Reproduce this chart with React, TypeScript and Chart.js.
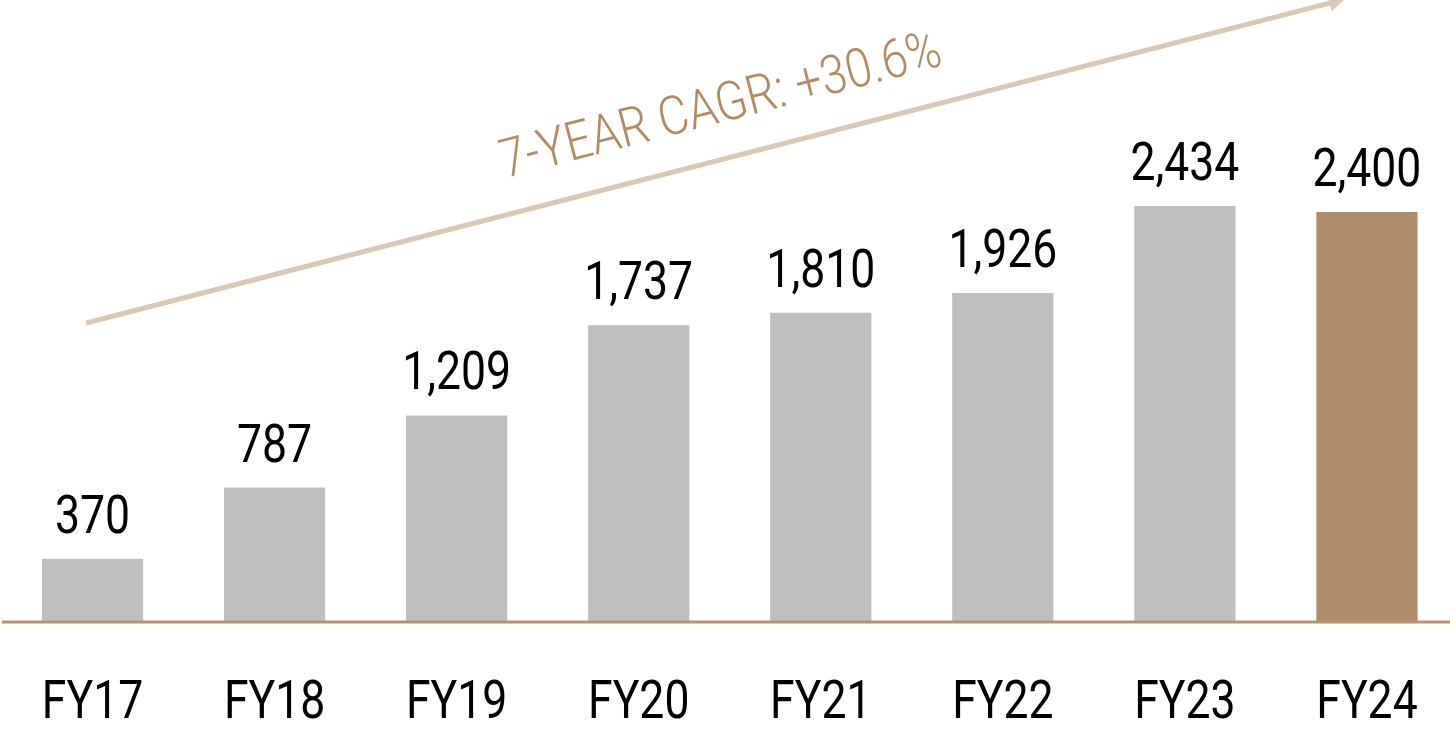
import React, { useEffect, useRef } from "react";
import { Chart, registerables } from "chart.js";

Chart.register(...registerables);

const categories = ["FY17", "FY18", "FY19", "FY20", "FY21", "FY22", "FY23", "FY24"];
const values = [370, 787, 1209, 1737, 1810, 1926, 2434, 2400];
const valueLabels = ["370", "787", "1,209", "1,737", "1,810", "1,926", "2,434", "2,400"];
const barColors = ["#bfbfbf", "#bfbfbf", "#bfbfbf", "#bfbfbf", "#bfbfbf", "#bfbfbf", "#bfbfbf", "#af8c6b"];
const cagrText = "7-YEAR CAGR: +30.6%";
// arrow start/end in data terms: [category index, value]
const arrowStart = [-0.035, 1750];
const arrowEnd = [6.88, 3645];

const FONT = "Roboto, 'Noto Sans', sans-serif";
const SQUEEZE = 0.84;

function drawCondensed(ctx: CanvasRenderingContext2D, text: string, x: number, y: number) {
  ctx.save();
  ctx.translate(x, y);
  ctx.scale(SQUEEZE, 1);
  ctx.fillText(text, 0, 0);
  ctx.restore();
}

const overlay = {
  id: "overlay",
  afterDatasetsDraw(chart: any) {
    const ctx: CanvasRenderingContext2D = chart.ctx;
    const xs = chart.scales.x;
    const ys = chart.scales.y;
    const meta = chart.getDatasetMeta(0);
    const base = ys.getPixelForValue(0);

    // baseline
    ctx.save();
    ctx.strokeStyle = "#b39372";
    ctx.lineWidth = 3;
    ctx.beginPath();
    ctx.moveTo(2, base);
    ctx.lineTo(chart.width, base);
    ctx.stroke();
    ctx.restore();

    // value labels and category labels
    ctx.save();
    ctx.fillStyle = "#000";
    ctx.font = `400 53px ${FONT}`;
    ctx.textAlign = "center";
    ctx.textBaseline = "alphabetic";
    meta.data.forEach((bar: any, i: number) => {
      drawCondensed(ctx, valueLabels[i], bar.x, bar.y - 26);
      drawCondensed(ctx, categories[i], xs.getPixelForValue(i), base + 96);
    });
    ctx.restore();

    // arrow
    const x1 = xs.getPixelForValue(arrowStart[0]);
    const y1 = ys.getPixelForValue(arrowStart[1]);
    const x2 = xs.getPixelForValue(arrowEnd[0]);
    const y2 = ys.getPixelForValue(arrowEnd[1]);
    const ang = Math.atan2(y2 - y1, x2 - x1);
    ctx.save();
    ctx.strokeStyle = "#d9c8b6";
    ctx.fillStyle = "#d9c8b6";
    ctx.lineWidth = 5;
    ctx.beginPath();
    ctx.moveTo(x1, y1);
    ctx.lineTo(x2 - 12 * Math.cos(ang), y2 - 12 * Math.sin(ang));
    ctx.stroke();
    ctx.translate(x2, y2);
    ctx.rotate(ang);
    ctx.beginPath();
    ctx.moveTo(0, 0);
    ctx.lineTo(-16, -8);
    ctx.lineTo(-16, 8);
    ctx.closePath();
    ctx.fill();
    ctx.restore();

    // CAGR text
    const t = 0.34;
    const px = x1 + (x2 - x1) * t;
    const py = y1 + (y2 - y1) * t;
    ctx.save();
    ctx.translate(px, py);
    ctx.rotate(ang);
    ctx.translate(0, -36);
    ctx.scale(0.86, 1);
    ctx.fillStyle = "#b08b64";
    ctx.font = `300 54px ${FONT}`;
    ctx.textAlign = "left";
    ctx.textBaseline = "alphabetic";
    ctx.fillText(cagrText, 0, 0);
    ctx.restore();
  },
};

export default function App() {
  const ref = useRef<HTMLCanvasElement | null>(null);
  useEffect(() => {
    document.body.style.margin = "0";
    document.body.style.overflow = "hidden";
    const chart = new Chart(ref.current!, {
      type: "bar",
      data: {
        labels: categories,
        datasets: [
          {
            data: values,
            backgroundColor: barColors,
            barPercentage: 0.556,
            categoryPercentage: 1,
          },
        ],
      },
      options: {
        responsive: false,
        animation: false,
        layout: { padding: { left: 1.5, right: 2, top: 0, bottom: 107 } },
        plugins: { legend: { display: false }, tooltip: { enabled: false } },
        scales: {
          x: { display: false },
          y: { display: false, min: 0, max: 3640 },
        },
      },
      plugins: [overlay],
    });
    return () => chart.destroy();
  }, []);
  return (
    <div style={{ width: 1450, height: 729, overflow: "hidden" }}>
      <canvas ref={ref} width={1460} height={729} style={{ display: "block" }} />
    </div>
  );
}
